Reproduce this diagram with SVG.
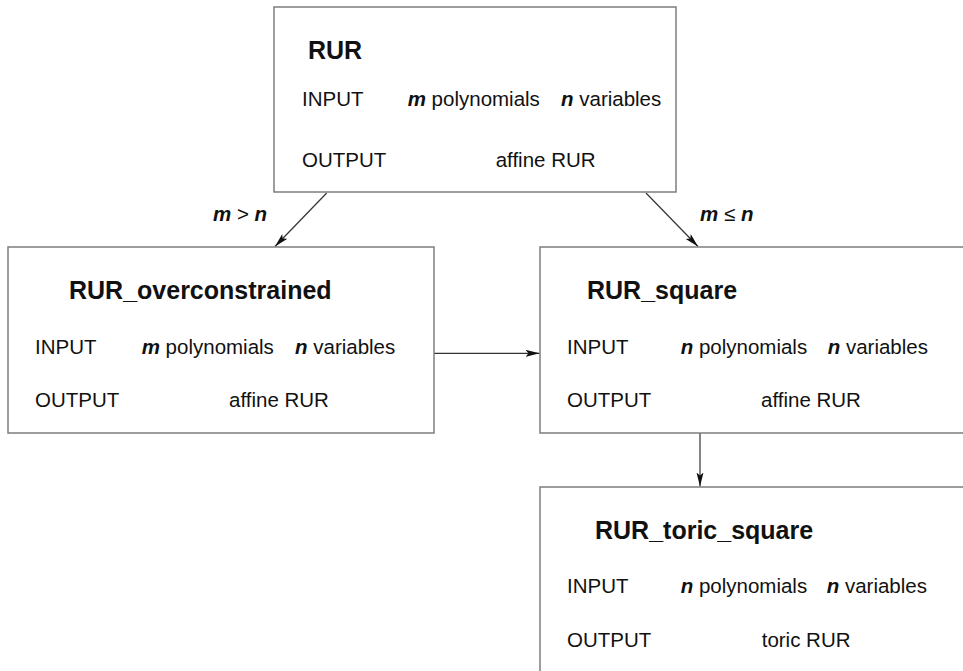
<svg xmlns="http://www.w3.org/2000/svg" width="963" height="671" viewBox="0 0 963 671">
  <defs>
    <style>
      .box { fill: #ffffff; stroke: #7d7d7d; stroke-width: 1.5; }
      .title { font-family: "Liberation Sans", Arial, sans-serif; font-size: 25px; font-weight: bold; fill: #111; }
      .txt { font-family: "Liberation Sans", Arial, sans-serif; font-size: 20.5px; fill: #111; }
      .bi { font-weight: bold; font-style: italic; }
      .edge { stroke: #333; stroke-width: 1.2; fill: none; marker-end: url(#arr); }
    </style>
    <marker id="arr" markerUnits="userSpaceOnUse" markerWidth="15" markerHeight="8" refX="14" refY="3.5" orient="auto">
      <path d="M0,0 L14,3.5 L0,7 L3,3.5 z" fill="#111"/>
    </marker>
  </defs>
  <rect width="963" height="671" fill="#ffffff"/>

  <g id="connectors">
    <line class="edge" x1="326.7" y1="193" x2="275" y2="246.5"/>
    <line class="edge" x1="646" y1="193" x2="698" y2="246.5"/>
    <line class="edge" x1="434" y1="353.3" x2="539.5" y2="353.3"/>
    <line class="edge" x1="700" y1="433" x2="700" y2="486.5"/>
    <text class="txt" x="213" y="221"><tspan class="bi">m</tspan> &gt; <tspan class="bi">n</tspan></text>
    <text class="txt" x="700" y="221"><tspan class="bi">m</tspan> ≤ <tspan class="bi">n</tspan></text>
  </g>

  <g id="node-rur">
    <rect class="box" x="274" y="7" width="402" height="185"/>
    <text class="title" x="308" y="59">RUR</text>
    <text class="txt" x="302" y="106">INPUT</text>
    <text class="txt" x="407.7" y="106"><tspan class="bi">m</tspan> polynomials</text>
    <text class="txt" x="561" y="106"><tspan class="bi">n</tspan> variables</text>
    <text class="txt" x="302" y="167">OUTPUT</text>
    <text class="txt" x="495.7" y="167">affine RUR</text>
  </g>

  <g id="node-overconstrained">
    <rect class="box" x="8" y="247" width="426" height="186"/>
    <text class="title" x="69" y="299">RUR_overconstrained</text>
    <text class="txt" x="35" y="354">INPUT</text>
    <text class="txt" x="141.7" y="354"><tspan class="bi">m</tspan> polynomials</text>
    <text class="txt" x="295" y="354"><tspan class="bi">n</tspan> variables</text>
    <text class="txt" x="35" y="407">OUTPUT</text>
    <text class="txt" x="229" y="407">affine RUR</text>
  </g>

  <g id="node-square">
    <rect class="box" x="540" y="247" width="430" height="186"/>
    <text class="title" x="587" y="299">RUR_square</text>
    <text class="txt" x="567" y="354">INPUT</text>
    <text class="txt" x="680.7" y="354"><tspan class="bi">n</tspan> polynomials</text>
    <text class="txt" x="827.7" y="354"><tspan class="bi">n</tspan> variables</text>
    <text class="txt" x="567" y="407">OUTPUT</text>
    <text class="txt" x="761" y="407">affine RUR</text>
  </g>

  <g id="node-toric-square">
    <rect class="box" x="540" y="487" width="430" height="200"/>
    <text class="title" x="595" y="539">RUR_toric_square</text>
    <text class="txt" x="567" y="593">INPUT</text>
    <text class="txt" x="680.7" y="593"><tspan class="bi">n</tspan> polynomials</text>
    <text class="txt" x="826.7" y="593"><tspan class="bi">n</tspan> variables</text>
    <text class="txt" x="567" y="647">OUTPUT</text>
    <text class="txt" x="761.7" y="647">toric RUR</text>
  </g>
</svg>
